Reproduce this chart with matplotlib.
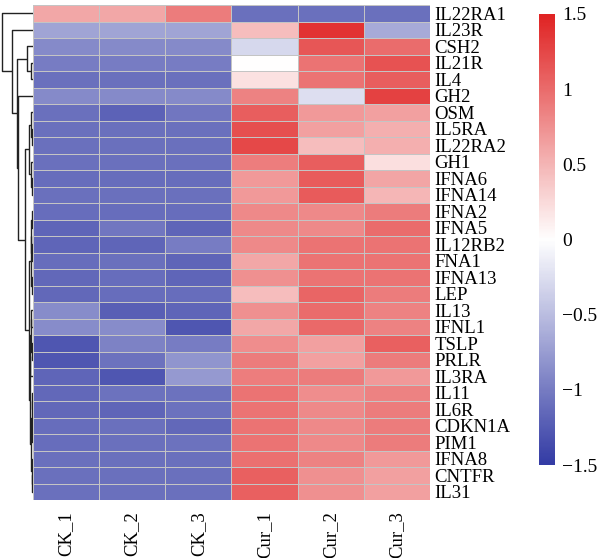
import numpy as np
import matplotlib.pyplot as plt
from matplotlib.colors import LinearSegmentedColormap, Normalize

# Datos
genes = ['IL22RA1', 'IL23R', 'CSH2', 'IL21R', 'IL4', 'GH2', 'OSM', 'IL5RA',
         'IL22RA2', 'GH1', 'IFNA6', 'IFNA14', 'IFNA2', 'IFNA5', 'IL12RB2',
         'FNA1', 'IFNA13', 'LEP', 'IL13', 'IFNL1', 'TSLP', 'PRLR', 'IL3RA',
         'IL11', 'IL6R', 'CDKN1A', 'PIM1', 'IFNA8', 'CNTFR', 'IL31']
muestras = ['CK_1', 'CK_2', 'CK_3', 'Cur_1', 'Cur_2', 'Cur_3']

ck_1 = [0.6, -0.7, -0.9, -1.0, -1.1, -0.9, -1.1, -1.1, -1.1, -1.1, -1.12, -1.1,
        -1.12, -1.18, -1.18, -1.12, -1.15, -1.15, -0.88, -0.88, -1.3, -1.3, -1.18,
        -1.15, -1.15, -1.12, -1.12, -1.1, -1.1, -1.1]
ck_2 = [0.6, -0.7, -0.9, -1.0, -1.1, -0.9, -1.2, -1.1, -1.1, -1.1, -1.12, -1.1,
        -1.12, -1.05, -1.18, -1.1, -1.12, -1.12, -1.22, -0.88, -0.95, -1.08, -1.3,
        -1.08, -1.18, -1.1, -1.1, -1.1, -1.1, -1.1]
ck_3 = [0.9, -0.7, -0.9, -1.0, -1.1, -0.9, -1.05, -1.1, -1.1, -1.1, -1.12, -1.1,
        -1.12, -1.18, -1.0, -1.18, -1.18, -1.12, -1.18, -1.3, -1.0, -0.82, -0.78,
        -1.08, -1.08, -1.15, -1.08, -1.1, -1.1, -1.1]
cur_1 = [-1.1, 0.45, -0.3, 0.0, 0.2, 0.85, 1.1, 1.2, 1.25, 0.88, 0.7, 0.7,
         0.8, 0.8, 0.8, 0.6, 0.75, 0.45, 0.75, 0.6, 0.78, 0.9, 0.88,
         0.95, 0.95, 0.95, 0.95, 0.98, 1.08, 1.08]
cur_2 = [-1.1, 1.4, 1.15, 0.95, 0.95, -0.25, 0.7, 0.65, 0.45, 1.1, 1.12, 1.12,
         0.8, 0.8, 0.95, 0.95, 0.95, 1.05, 1.0, 1.02, 0.65, 0.65, 0.9,
         0.78, 0.8, 0.8, 0.8, 0.85, 0.75, 0.75]
cur_3 = [-1.1, -0.65, 1.0, 1.18, 1.1, 1.3, 0.65, 0.55, 0.55, 0.22, 0.62, 0.5,
         0.9, 1.0, 0.95, 0.95, 0.95, 0.9, 0.85, 0.85, 1.08, 0.9, 0.7,
         0.85, 0.9, 0.9, 0.9, 0.7, 0.65, 0.65]

# Arbol de filas: (hijo_a, hijo_b, altura); ids >= 30 son nodos previos
uniones = [(3, 4, 0.08), (2, 30, 0.2), (7, 8, 0.04), (6, 32, 0.07),
           (10, 11, 0.03), (9, 34, 0.08), (33, 35, 0.13), (12, 13, 0.03),
           (14, 15, 0.03), (16, 17, 0.04), (37, 38, 0.05), (39, 40, 0.06),
           (18, 19, 0.05), (20, 21, 0.04), (42, 43, 0.07), (22, 44, 0.09),
           (23, 24, 0.02), (25, 26, 0.02), (46, 47, 0.03), (28, 29, 0.02),
           (27, 49, 0.04), (48, 50, 0.06), (45, 51, 0.1), (41, 52, 0.12),
           (36, 53, 0.26), (5, 54, 0.5), (31, 55, 0.52), (1, 56, 0.68),
           (0, 57, 1.0)]

valores = np.array([ck_1, ck_2, ck_3, cur_1, cur_2, cur_3]).T
n_filas = len(genes)

plt.rcParams['font.family'] = ['Liberation Serif', 'DejaVu Serif']
cmap = LinearSegmentedColormap.from_list('azul_rojo', ['#343CA5', '#FFFFFF', '#E02424'])
norm = Normalize(vmin=-1.5, vmax=1.5)

fig = plt.figure(figsize=(6, 5.58), dpi=100)

# Mapa de calor
ax = fig.add_axes([33 / 600, 1 - 500 / 558, 397 / 600, 495 / 558])
ax.pcolormesh(valores, cmap=cmap, norm=norm, edgecolors='#C4C4C4', linewidth=0.7)
ax.set_xlim(0, len(muestras))
ax.set_ylim(n_filas, 0)
ax.set_xticks(np.arange(len(muestras)) + 0.5)
ax.set_xticklabels(muestras, rotation=90, fontsize=13.5)
ax.set_yticks(np.arange(n_filas) + 0.5)
ax.set_yticklabels(genes, fontsize=13.5)
ax.yaxis.tick_right()
ax.tick_params(length=0, pad=3)
ax.tick_params(axis='x', pad=8)
for s in ax.spines.values():
    s.set_visible(False)

# Dendrograma
axd = fig.add_axes([0, 1 - 500 / 558, 33 / 600, 495 / 558])
pos_y = {i: i + 0.5 for i in range(n_filas)}
alt = {i: 0.0 for i in range(n_filas)}
for k, (a, b, h) in enumerate(uniones):
    nodo = n_filas + k
    axd.plot([alt[a], h, h, alt[b]], [pos_y[a], pos_y[a], pos_y[b], pos_y[b]],
             color='#222222', lw=1.0, solid_capstyle='butt')
    pos_y[nodo] = (pos_y[a] + pos_y[b]) / 2
    alt[nodo] = h
axd.set_ylim(n_filas, 0)
axd.set_xlim(1.07, 0)
axd.axis('off')

# Barra de color
axc = fig.add_axes([539 / 600, 1 - 465 / 558, 16 / 600, 451 / 558])
grad = np.linspace(-1.5, 1.5, 300).reshape(-1, 1)
axc.imshow(grad, cmap=cmap, norm=norm, aspect='auto', origin='lower',
           extent=[0, 1, -1.5, 1.5])
axc.set_xticks([])
ticks = [1.5, 1, 0.5, 0, -0.5, -1, -1.5]
axc.set_yticks(ticks)
axc.set_yticklabels([('%g' % t).replace('-', '\u2212') for t in ticks], fontsize=14)
axc.yaxis.tick_right()
axc.tick_params(length=0, pad=5)
for s in axc.spines.values():
    s.set_visible(False)

fig.savefig('out.png', dpi=100)
